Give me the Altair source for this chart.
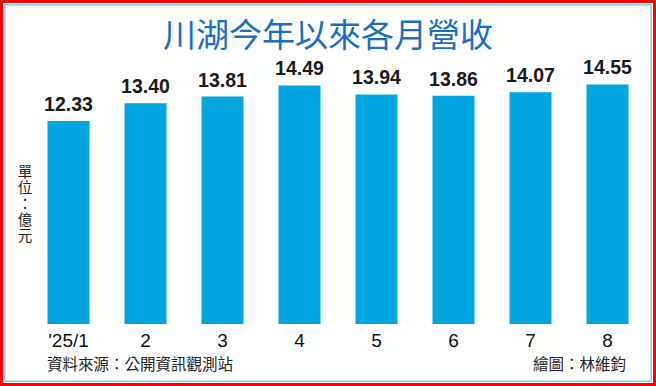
import altair as alt
import pandas as pd

months = ["'25/1", "2", "3", "4", "5", "6", "7", "8"]
revenue = [12.33, 13.40, 13.81, 14.49, 13.94, 13.86, 14.07, 14.55]
labels = ["12.33", "13.40", "13.81", "14.49", "13.94", "13.86", "14.07", "14.55"]
title_text = "川湖今年以來各月營收"
unit_text = "單\n位\n：\n億\n元"
source_text = "資料來源：公開資訊觀測站"
credit_text = "繪圖：林維鈞"

BAR = "#00a6e0"
TITLE = "#1b6ec2"
CJK = "Noto Sans CJK TC"

df = pd.DataFrame({"month": months, "value": revenue, "label": labels})

L, T, W, H = 30, 77, 616, 247

xenc = alt.X("month:N", sort=None,
             scale=alt.Scale(paddingInner=0.4545, paddingOuter=0.2273),
             axis=alt.Axis(title=None, labelAngle=0, domain=False, ticks=False,
                           labelFont="Liberation Sans", labelFontSize=19,
                           labelColor="#111111", labelPadding=7))
yenc = alt.Y("value:Q", scale=alt.Scale(domain=[0, 15], nice=False, zero=True), axis=None)

bars = alt.Chart(df).mark_bar(color=BAR).encode(x=xenc, y=yenc)
vals = alt.Chart(df).mark_text(baseline="bottom", dy=-6, font="Liberation Sans",
                               fontWeight="bold", fontSize=19.5, color="#1a1a1a").encode(
    x=alt.X("month:N", sort=None), y="value:Q", text="label:N")

def txt(s, x, y, **kw):
    return alt.Chart(pd.DataFrame({"t": [s]})).mark_text(**kw).encode(
        text="t:N", x=alt.value(x), y=alt.value(y))

title = txt(title_text, 328 - L, 37 - T, font=CJK, fontSize=33, color=TITLE,
            align="center", baseline="middle")
unit = txt(unit_text, 25 - L, 166 - T, font=CJK, fontSize=14.5, color="#222222",
           align="center", baseline="top", lineBreak="\n", lineHeight=16)
source = txt(source_text, 47 - L, 365 - T, font=CJK, fontSize=15.5, color="#222222",
             align="left", baseline="middle")
credit = txt(credit_text, 626 - L, 365 - T, font=CJK, fontSize=15.5, color="#222222",
             align="right", baseline="middle")

def frame(x1, y1, x2, y2, color, sw):
    return alt.Chart(pd.DataFrame({"a": [0]})).mark_rect(
        fill=None, stroke=color, strokeWidth=sw).encode(
        x=alt.value(x1 - L), x2=alt.value(x2 - L), y=alt.value(y1 - T), y2=alt.value(y2 - T))

outer = frame(1.5, 1.5, 654.5, 384.5, "#ff0000", 3)
inner = frame(4.75, 4.75, 651.25, 381.25, "#7fd3f5", 1.5)

chart = alt.layer(bars, vals, title, unit, source, credit, inner, outer).properties(
    width=W, height=H,
    padding={"left": L, "top": T, "right": 656 - L - W, "bottom": 386 - T - H},
    autosize=alt.AutoSizeParams(type="none"),
    background="white",
).configure_view(stroke=None)

chart.save("out.html", embed_options={"renderer": "svg", "actions": False})
